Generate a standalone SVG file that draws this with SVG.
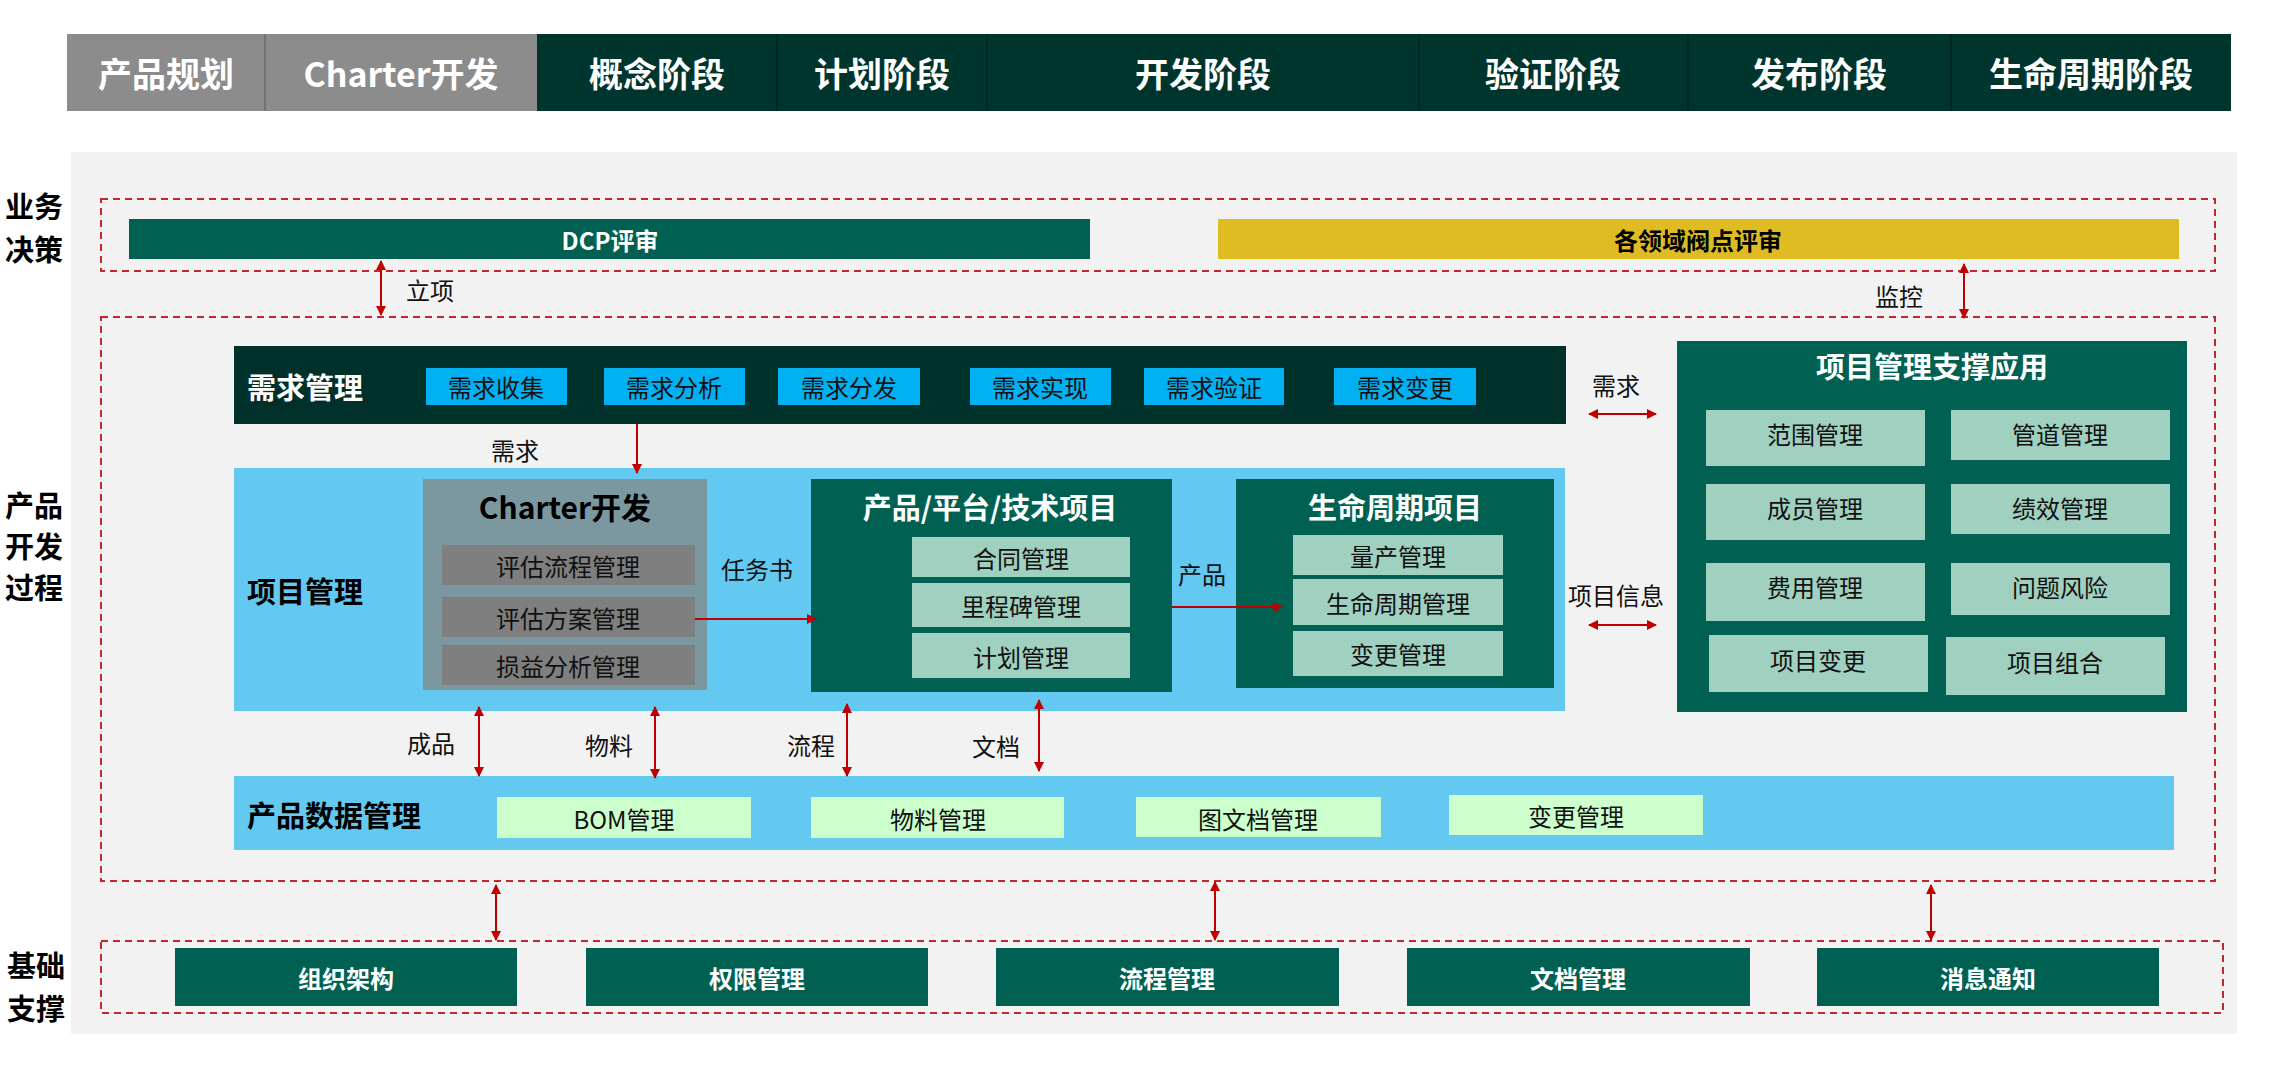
<svg xmlns="http://www.w3.org/2000/svg" width="2274" height="1075" viewBox="0 0 2274 1075">
<defs>
<style>
text{font-family:"Noto Sans CJK SC","Liberation Sans",sans-serif;text-anchor:middle;dominant-baseline:central}
.ph{fill:#fff;font-size:34px;font-weight:bold}
.lab{fill:#000;font-size:29px;font-weight:bold}
.dash{fill:none;stroke:#C0282D;stroke-width:2;stroke-dasharray:7 5}
.wb{fill:#fff;font-size:24px;font-weight:bold}
.t{fill:#111;font-size:24px}
.tw{fill:#fff;font-size:29px;font-weight:bold}
.tl{fill:#000;font-size:29px;font-weight:bold;text-anchor:start}
.ar{stroke:#C00000;stroke-width:2;fill:none}
</style>
<marker id="ah" viewBox="0 0 10 10" refX="9" refY="5" markerWidth="5" markerHeight="6" orient="auto-start-reverse"><path d="M0,0L10,5L0,10z" fill="#C00000"/></marker>
</defs>
<rect width="2274" height="1075" fill="#fff"/>
<g id="phases">
<rect x="67" y="34" width="470" height="77" fill="#8C8C8C"/>
<rect x="537" y="34" width="1694" height="77" fill="#00352D"/>
<g stroke="#5a5a5a" stroke-opacity="0.5" stroke-width="2"><line x1="265" y1="34" x2="265" y2="111"/></g>
<g stroke="#002620" stroke-width="2"><line x1="777" y1="34" x2="777" y2="111"/><line x1="987" y1="34" x2="987" y2="111"/><line x1="1419" y1="34" x2="1419" y2="111"/><line x1="1688" y1="34" x2="1688" y2="111"/><line x1="1951" y1="34" x2="1951" y2="111"/></g>
<text class="ph" x="166" y="72">产品规划</text>
<text class="ph" x="401" y="72">Charter开发</text>
<text class="ph" x="657" y="72">概念阶段</text>
<text class="ph" x="882" y="72">计划阶段</text>
<text class="ph" x="1203" y="72">开发阶段</text>
<text class="ph" x="1553" y="72">验证阶段</text>
<text class="ph" x="1819" y="72">发布阶段</text>
<text class="ph" x="2091" y="72">生命周期阶段</text>
</g>
<rect x="71" y="152" width="2166" height="882" fill="#F2F2F2"/>
<g id="side-labels">
<text class="lab" x="34" y="205">业务</text><text class="lab" x="34" y="248">决策</text>
<text class="lab" x="34" y="504">产品</text><text class="lab" x="34" y="545">开发</text><text class="lab" x="34" y="586">过程</text>
<text class="lab" x="36" y="964">基础</text><text class="lab" x="36" y="1007">支撑</text>
</g>
<rect class="dash" x="101" y="199" width="2114" height="72"/>
<rect class="dash" x="101" y="317" width="2114" height="564"/>
<rect class="dash" x="101" y="941" width="2122" height="72"/>
<g id="decision">
<rect x="129" y="219" width="961" height="40" fill="#006152"/>
<text class="wb" x="610" y="239">DCP评审</text>
<rect x="1218" y="219" width="961" height="40" fill="#DFBC22"/>
<text class="wb" x="1698" y="239" style="fill:#000">各领域阀点评审</text>
</g>
<g id="req">
<rect x="234" y="346" width="1332" height="78" fill="#00302A"/>
<text class="tw" x="247" y="386" style="text-anchor:start">需求管理</text>
<g fill="#00B0F0"><rect x="426" y="368" width="141" height="37"/><rect x="604" y="368" width="141" height="37"/><rect x="778" y="368" width="142" height="37"/><rect x="970" y="368" width="141" height="37"/><rect x="1144" y="368" width="140" height="37"/><rect x="1334" y="368" width="142" height="37"/></g>
<text class="t" x="496" y="386">需求收集</text><text class="t" x="674" y="386">需求分析</text><text class="t" x="849" y="386">需求分发</text><text class="t" x="1040" y="386">需求实现</text><text class="t" x="1214" y="386">需求验证</text><text class="t" x="1405" y="386">需求变更</text>
</g>
<g id="pm">
<rect x="234" y="468" width="1331" height="243" fill="#63C9F0"/>
<text class="tl" x="247" y="590">项目管理</text>
</g>
<g id="charter">
<rect x="423" y="479" width="284" height="211" fill="#7B98A0"/>
<text x="565" y="506" style="font-size:30px;font-weight:bold;fill:#000">Charter开发</text>
<g fill="#7F7F7F"><rect x="442" y="545" width="253" height="40"/><rect x="442" y="597" width="253" height="40"/><rect x="442" y="645" width="253" height="40"/></g>
<text class="t" x="568" y="565">评估流程管理</text><text class="t" x="568" y="617">评估方案管理</text><text class="t" x="568" y="665">损益分析管理</text>
</g>
<g id="ppt">
<rect x="811" y="479" width="361" height="213" fill="#006152"/>
<text class="tw" x="990" y="506">产品/平台/技术项目</text>
<g fill="#A0D0C0"><rect x="912" y="537" width="218" height="40"/><rect x="912" y="583" width="218" height="44"/><rect x="912" y="633" width="218" height="45"/></g>
<text class="t" x="1021" y="557">合同管理</text><text class="t" x="1021" y="605">里程碑管理</text><text class="t" x="1021" y="656">计划管理</text>
</g>
<g id="lcp">
<rect x="1236" y="479" width="318" height="209" fill="#006152"/>
<text class="tw" x="1395" y="506">生命周期项目</text>
<g fill="#A0D0C0"><rect x="1293" y="535" width="210" height="40"/><rect x="1293" y="579" width="210" height="46"/><rect x="1293" y="631" width="210" height="45"/></g>
<text class="t" x="1398" y="555">量产管理</text><text class="t" x="1398" y="602">生命周期管理</text><text class="t" x="1398" y="653">变更管理</text>
</g>
<g id="support">
<rect x="1677" y="341" width="510" height="371" fill="#006152"/>
<text class="tw" x="1932" y="365">项目管理支撑应用</text>
<g fill="#A0D0C0">
<rect x="1706" y="410" width="219" height="56"/><rect x="1951" y="410" width="219" height="50"/>
<rect x="1706" y="484" width="219" height="56"/><rect x="1951" y="484" width="219" height="50"/>
<rect x="1706" y="563" width="219" height="58"/><rect x="1951" y="563" width="219" height="52"/>
<rect x="1709" y="635" width="219" height="57"/><rect x="1946" y="637" width="219" height="58"/>
</g>
<text class="t" x="1815" y="433">范围管理</text><text class="t" x="2060" y="433">管道管理</text>
<text class="t" x="1815" y="507">成员管理</text><text class="t" x="2060" y="507">绩效管理</text>
<text class="t" x="1815" y="586">费用管理</text><text class="t" x="2060" y="586">问题风险</text>
<text class="t" x="1818" y="659">项目变更</text><text class="t" x="2055" y="661">项目组合</text>
</g>
<g id="pdm">
<rect x="234" y="776" width="1940" height="74" fill="#63C9F0"/>
<text class="tl" x="247" y="814">产品数据管理</text>
<g fill="#CCFFCC"><rect x="497" y="797" width="254" height="41"/><rect x="811" y="797" width="253" height="41"/><rect x="1136" y="797" width="245" height="40"/><rect x="1449" y="795" width="254" height="40"/></g>
<text class="t" x="624" y="818">BOM管理</text><text class="t" x="938" y="818">物料管理</text><text class="t" x="1258" y="818">图文档管理</text><text class="t" x="1576" y="815">变更管理</text>
</g>
<g id="base">
<g fill="#006152"><rect x="175" y="948" width="342" height="58"/><rect x="586" y="948" width="342" height="58"/><rect x="996" y="948" width="343" height="58"/><rect x="1407" y="948" width="343" height="58"/><rect x="1817" y="948" width="342" height="58"/></g>
<text class="wb" x="346" y="977">组织架构</text><text class="wb" x="757" y="977">权限管理</text><text class="wb" x="1167" y="977">流程管理</text><text class="wb" x="1578" y="977">文档管理</text><text class="wb" x="1988" y="977">消息通知</text>
</g>
<g id="connectors">
<line class="ar" x1="381" y1="261" x2="381" y2="315" marker-start="url(#ah)" marker-end="url(#ah)"/>
<line class="ar" x1="1964" y1="264" x2="1964" y2="318" marker-start="url(#ah)" marker-end="url(#ah)"/>
<line class="ar" x1="637" y1="424" x2="637" y2="473" marker-end="url(#ah)"/>
<line class="ar" x1="695" y1="619" x2="816" y2="619" marker-end="url(#ah)"/>
<line class="ar" x1="1172" y1="607" x2="1282" y2="607" marker-end="url(#ah)"/>
<line class="ar" x1="1589" y1="414" x2="1656" y2="414" marker-start="url(#ah)" marker-end="url(#ah)"/>
<line class="ar" x1="1589" y1="625" x2="1656" y2="625" marker-start="url(#ah)" marker-end="url(#ah)"/>
<line class="ar" x1="479" y1="707" x2="479" y2="776" marker-start="url(#ah)" marker-end="url(#ah)"/>
<line class="ar" x1="655" y1="707" x2="655" y2="778" marker-start="url(#ah)" marker-end="url(#ah)"/>
<line class="ar" x1="847" y1="704" x2="847" y2="776" marker-start="url(#ah)" marker-end="url(#ah)"/>
<line class="ar" x1="1039" y1="700" x2="1039" y2="771" marker-start="url(#ah)" marker-end="url(#ah)"/>
<line class="ar" x1="496" y1="885" x2="496" y2="940" marker-start="url(#ah)" marker-end="url(#ah)"/>
<line class="ar" x1="1215" y1="882" x2="1215" y2="940" marker-start="url(#ah)" marker-end="url(#ah)"/>
<line class="ar" x1="1931" y1="885" x2="1931" y2="940" marker-start="url(#ah)" marker-end="url(#ah)"/>
<text class="t" x="430" y="289">立项</text>
<text class="t" x="1899" y="295">监控</text>
<text class="t" x="515" y="449">需求</text>
<text class="t" x="757" y="568">任务书</text>
<text class="t" x="1202" y="573">产品</text>
<text class="t" x="1616" y="384">需求</text>
<text class="t" x="1616" y="594">项目信息</text>
<text class="t" x="431" y="742">成品</text>
<text class="t" x="609" y="744">物料</text>
<text class="t" x="811" y="744">流程</text>
<text class="t" x="996" y="745">文档</text>
</g>
</svg>
